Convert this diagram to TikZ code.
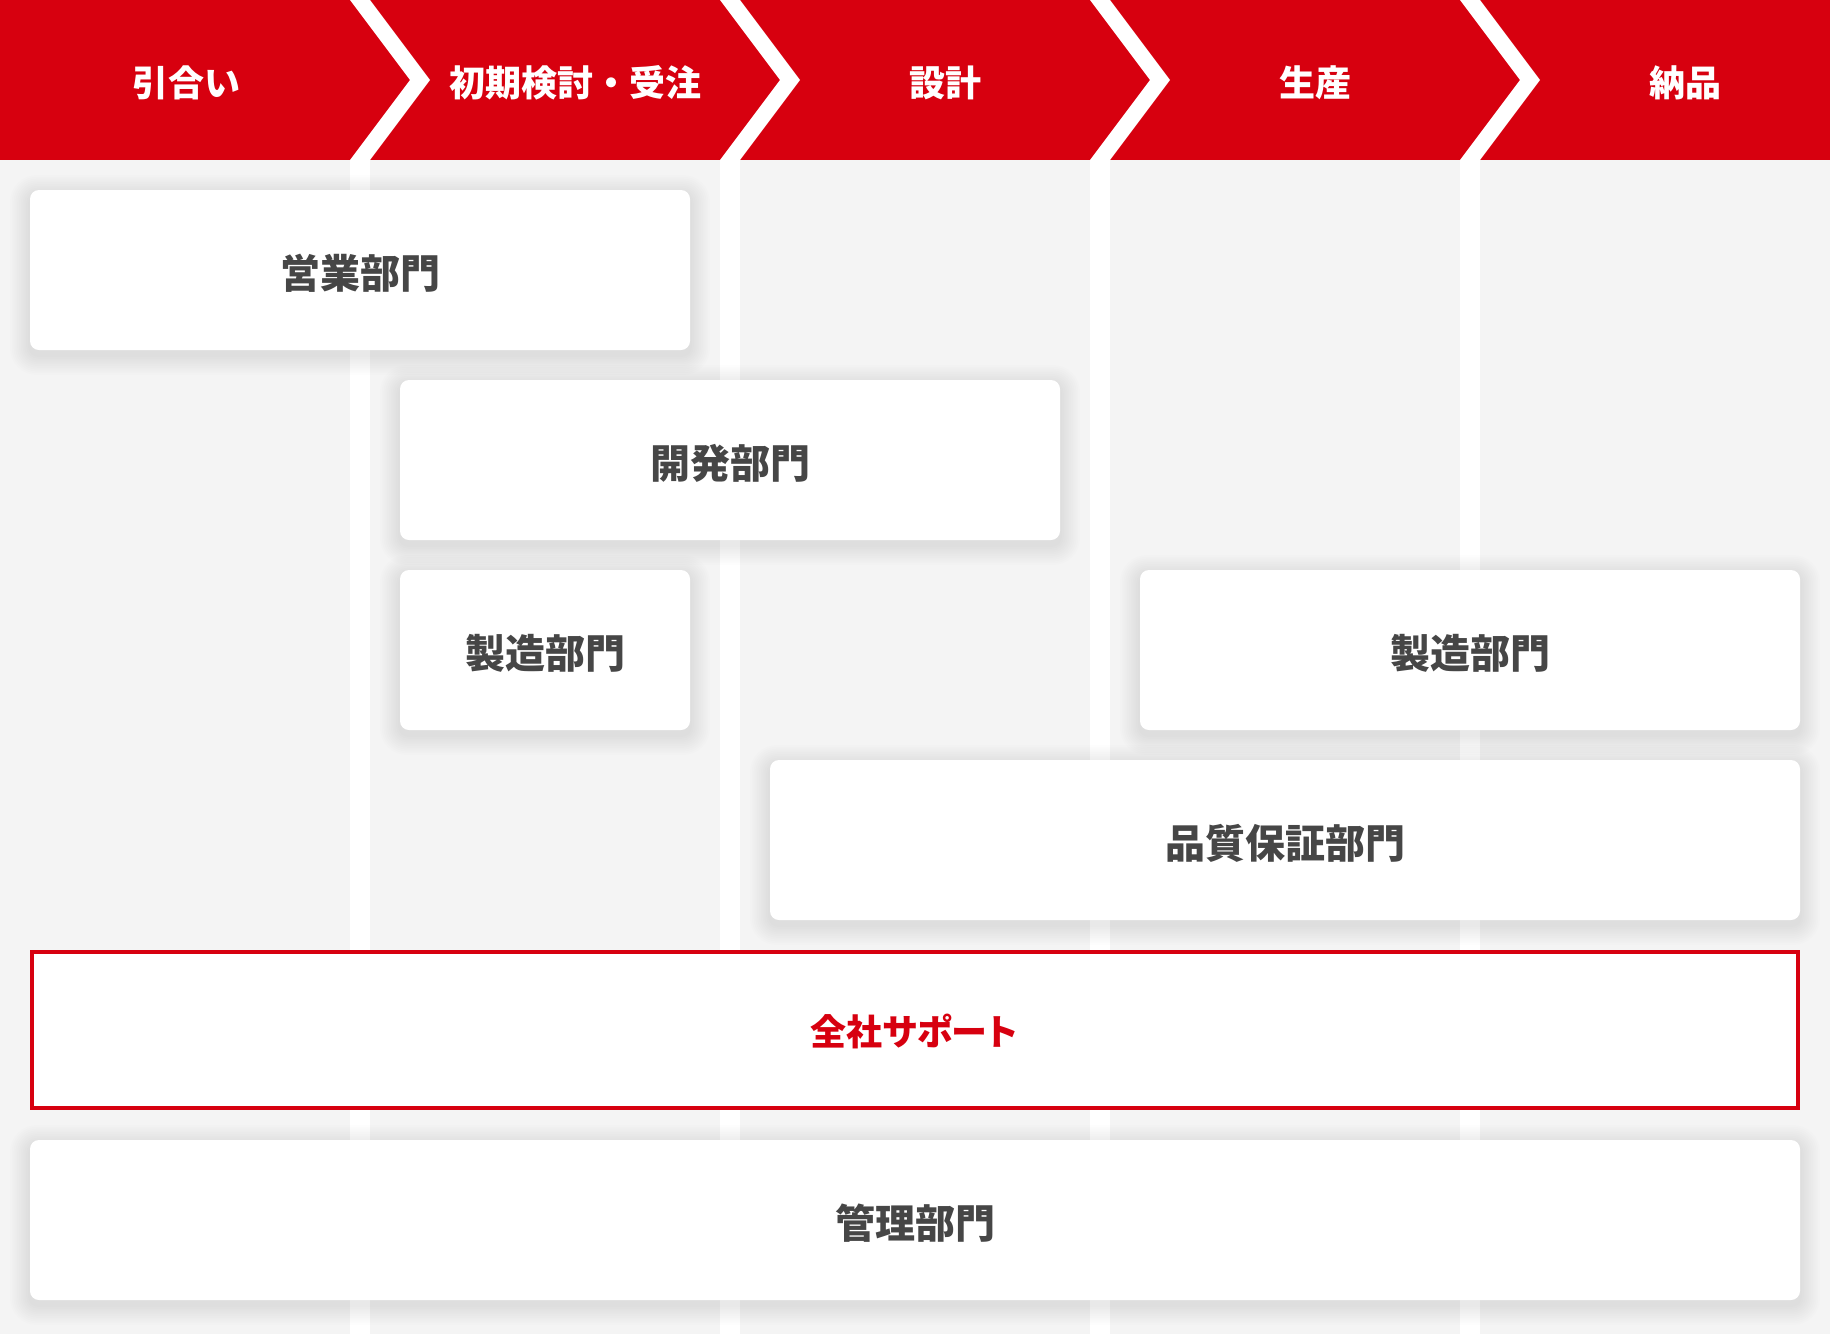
\documentclass[tikz,border=0pt]{standalone}
\usepackage{fontspec}
\setmainfont{Noto Sans CJK JP}
\pgfdeclarelayer{bglayer}
\pgfdeclarelayer{shadowlayer}
\pgfsetlayers{bglayer,shadowlayer,main}
\definecolor{hdred}{HTML}{D7000F}
\definecolor{bggrey}{HTML}{F4F4F4}
\definecolor{txtgrey}{HTML}{464646}
\tikzset{
  hdlabel/.style={text=white, font=\fontsize{36pt}{40pt}\selectfont\bfseries, inner sep=0pt, anchor=center},
  deptbox/.style={fill=white, rounded corners=9pt, inner sep=0pt, minimum height=160pt},
  depttext/.style={text=txtgrey, font=\fontsize{40pt}{44pt}\selectfont\bfseries, inner sep=0pt},
  supportbox/.style={fill=white, draw=hdred, line width=4pt, inner sep=0pt, minimum height=156pt},
  supporttext/.style={text=hdred, font=\fontsize{36pt}{40pt}\selectfont\bfseries\addfontfeatures{RawFeature=+palt}, inner sep=0pt},
  chev/.style={fill=white, draw=none},
  shadowlay/.style={fill=black, opacity=0.0075}
}
\newcommand{\boxshadow}[1]{%
  \begin{pgfonlayer}{shadowlayer}
  \foreach \k in {1,...,11}{
    \fill[shadowlay, rounded corners=9pt+\k*1.6pt]
      ([xshift=-\k*1.8pt, yshift=\k*1.8pt-5pt]#1.north west) rectangle
      ([xshift=\k*1.8pt, yshift=-\k*1.8pt-5pt]#1.south east);
  }
  \end{pgfonlayer}}
\begin{document}
\begin{tikzpicture}[x=1pt, y=-1pt]
\useasboundingbox (0,0) rectangle (1830,1334);
\begin{pgfonlayer}{bglayer}
\fill[bggrey] (0,160) rectangle (1830,1334);
\fill[hdred] (0,0) rectangle (1830,160);
\foreach \sx in {350,720,1090,1460}{
  \fill[chev] (\sx,0) -- (\sx+20,0) -- (\sx+80,80) -- (\sx+20,160) -- (\sx,160) -- (\sx+60,80) -- cycle;
  \fill[chev] (\sx,160) rectangle (\sx+20,1334);
}
\end{pgfonlayer}
% header labels
\node[hdlabel] (h1) at (186,83) {引合い};
\node[hdlabel] (h2) at (575,83) {初期検討・受注};
\node[hdlabel] (h3) at (945,83) {設計};
\node[hdlabel] (h4) at (1315,83) {生産};
\node[hdlabel] (h5) at (1685,83) {納品};
% department boxes
\node[deptbox, minimum width=660pt] (eigyo) at (360,270) {};
\node[deptbox, minimum width=660pt] (kaihatsu) at (730,460) {};
\node[deptbox, minimum width=290pt] (seizoA) at (545,650) {};
\node[deptbox, minimum width=660pt] (seizoB) at (1470,650) {};
\node[deptbox, minimum width=1030pt] (hinshitsu) at (1285,840) {};
\node[supportbox, minimum width=1766pt] (zensha) at (915,1030) {};
\node[deptbox, minimum width=1770pt] (kanri) at (915,1220) {};
\boxshadow{eigyo}
\boxshadow{kaihatsu}
\boxshadow{seizoA}
\boxshadow{seizoB}
\boxshadow{hinshitsu}
\boxshadow{kanri}
% texts
\node[depttext] (t1) at ([yshift=-3.5pt]eigyo.center) {営業部門};
\node[depttext] (t2) at ([yshift=-3.5pt]kaihatsu.center) {開発部門};
\node[depttext] (t3) at ([yshift=-3.5pt]seizoA.center) {製造部門};
\node[depttext] (t4) at ([yshift=-3.5pt]seizoB.center) {製造部門};
\node[depttext] (t5) at ([yshift=-3.5pt]hinshitsu.center) {品質保証部門};
\node[supporttext] (t6) at ([xshift=-1pt, yshift=-1.5pt]zensha.center) {全社サポート};
\node[depttext] (t7) at ([yshift=-3.5pt]kanri.center) {管理部門};
\end{tikzpicture}
\end{document}
